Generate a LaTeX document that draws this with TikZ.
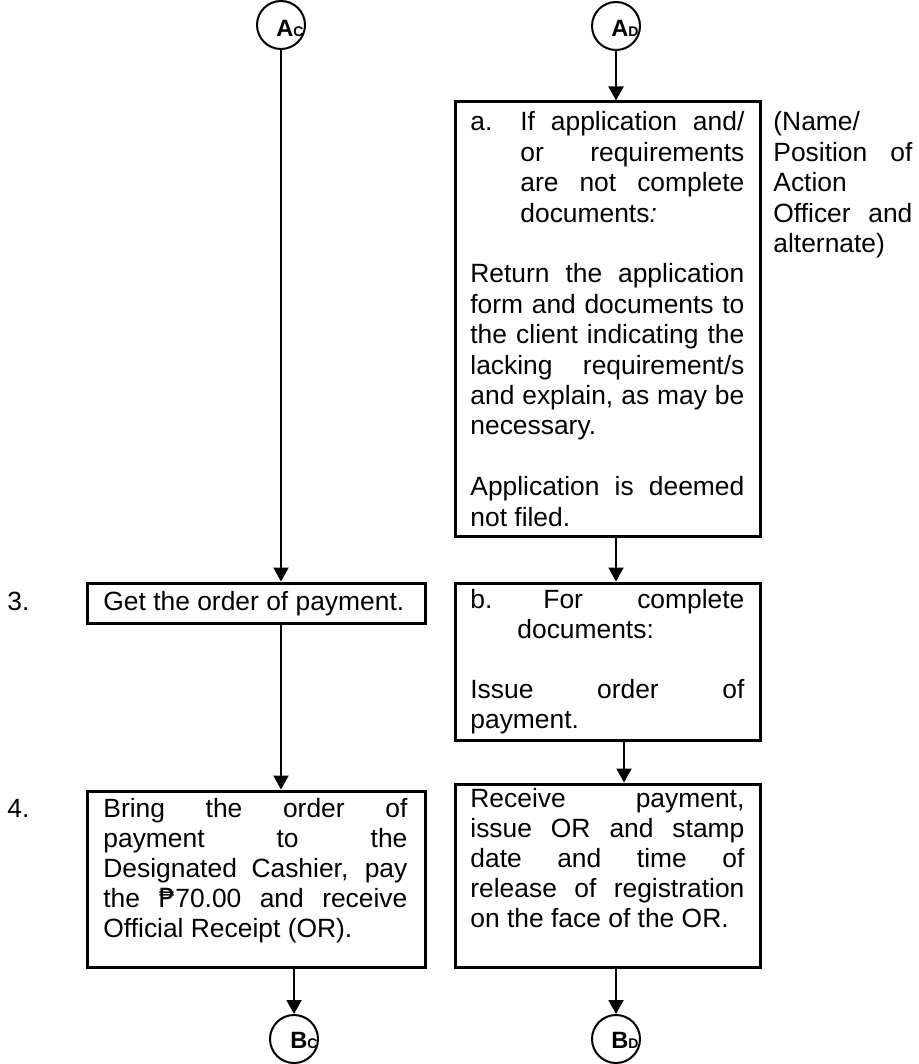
\documentclass[tikz,border=0pt]{standalone}
\usepackage{fontspec}
\setmainfont{Liberation Sans}
\newfontfamily\pesofont{DejaVu Sans}
\usetikzlibrary{arrows.meta}
\newcommand\jline[2]{\makebox[#1][s]{#2}}
\newcommand\bodyfont{\fontsize{13.2}{15.1}\selectfont}
\begin{document}
\begin{tikzpicture}[x=0.5pt,y=-0.5pt,
 box/.style={draw,line width=1.5pt,rectangle,inner sep=0pt},
 conn/.style={draw,circle,line width=1pt,minimum size=24pt,inner sep=0pt},
 arr/.style={line width=1pt,-{Triangle[width=7.5pt,length=7pt]}},
 txt/.style={inner sep=0pt,anchor=base west,font=\bodyfont},
 clab/.style={inner sep=0pt,anchor=base,font=\fontsize{11.8}{13}\selectfont\bfseries}]
\useasboundingbox (0,0) rectangle (918,1064);
% connectors (circles)
\node[conn] (Ac) at (281,25) {};
\node[conn] (Ad) at (616,26) {};
\node[conn] (Bc) at (294,1039) {};
\node[conn] (Bd) at (616,1039) {};
\node[clab] (AcL) at (290,37) {A{\fontsize{7}{8}\selectfont C}};
\node[clab] (AdL) at (625,37) {A{\fontsize{7}{8}\selectfont D}};
\node[clab] (BcL) at (304,1048) {B{\fontsize{7}{8}\selectfont C}};
\node[clab] (BdL) at (625,1048) {B{\fontsize{7}{8}\selectfont D}};
% boxes
\node[box,minimum width=152.5pt,minimum height=217pt] (ba) at (607.5,319) {};
\node[box,minimum width=169pt,minimum height=20pt] (b3) at (256,603) {};
\node[box,minimum width=152.5pt,minimum height=78.5pt] (bb) at (607.5,661.5) {};
\node[box,minimum width=169pt,minimum height=88pt] (b4) at (256,879) {};
\node[box,minimum width=152.5pt,minimum height=91.5pt] (rc) at (607.5,875.5) {};
% texts
\node[txt] (ta) at (470,131) {\parbox[t]{137pt}{\fontsize{13.2}{15.2}\selectfont
\makebox[25pt][l]{a.}\jline{112pt}{If application and/}\par
\hspace*{25pt}\jline{112pt}{or requirements}\par
\hspace*{25pt}\jline{112pt}{are not complete}\par
\hspace*{25pt}documents\textit{:}\par
\mbox{}\par
\jline{137pt}{Return the application}\par
\jline{137pt}{form and documents to}\par
\jline{137pt}{the client indicating the}\par
\jline{137pt}{lacking requirement/s}\par
\jline{137pt}{and explain, as may be}\par
necessary.\par
\mbox{}\par
\jline{137pt}{Application is deemed}\par
not filed.}};
\node[txt] (side) at (773,131) {\parbox[t]{69.5pt}{\fontsize{13.2}{15.2}\selectfont
(Name/\par
\jline{69.5pt}{Position of}\par
Action\par
\jline{69.5pt}{Officer and}\par
alternate)}};
\node[txt] (n3) at (7,610) {3.};
\node[txt] (t3) at (103,610) {Get the order of payment.};
\node[txt] (tb) at (470,608) {\parbox[t]{137pt}{\bodyfont
\makebox[36.5pt][l]{b.}\jline{100.5pt}{For complete}\par
\hspace*{23.5pt}documents:\par
\mbox{}\par
\jline{137pt}{Issue order of}\par
payment.}};
\node[txt] (n4) at (7,817) {4.};
\node[txt] (t4) at (103,817) {\parbox[t]{152pt}{\bodyfont
\jline{152pt}{Bring the order of}\par
\jline{152pt}{payment to the}\par
\jline{152pt}{Designated Cashier, pay}\par
\jline{152pt}{the {\pesofont ₱}70.00 and receive}\par
Official Receipt (OR).}};
\node[txt] (tr) at (470,807) {\parbox[t]{137pt}{\bodyfont
\jline{137pt}{Receive payment,}\par
\jline{137pt}{issue OR and stamp}\par
\jline{137pt}{date and time of}\par
\jline{137pt}{release of registration}\par
on the face of the OR.}};
% arrows
\coordinate (xr) at (624,0);
\draw[arr] (Ac) -- (Ac |- b3.north);
\draw[arr] (Ac |- b3.south) -- (Ac |- b4.north);
\draw[arr] (Bc |- b4.south) -- (Bc);
\draw[arr] (Ad) -- (Ad |- ba.north);
\draw[arr] (Ad |- ba.south) -- (Ad |- bb.north);
\draw[arr] (xr |- bb.south) -- (xr |- rc.north);
\draw[arr] (Bd |- rc.south) -- (Bd);
\end{tikzpicture}
\end{document}
